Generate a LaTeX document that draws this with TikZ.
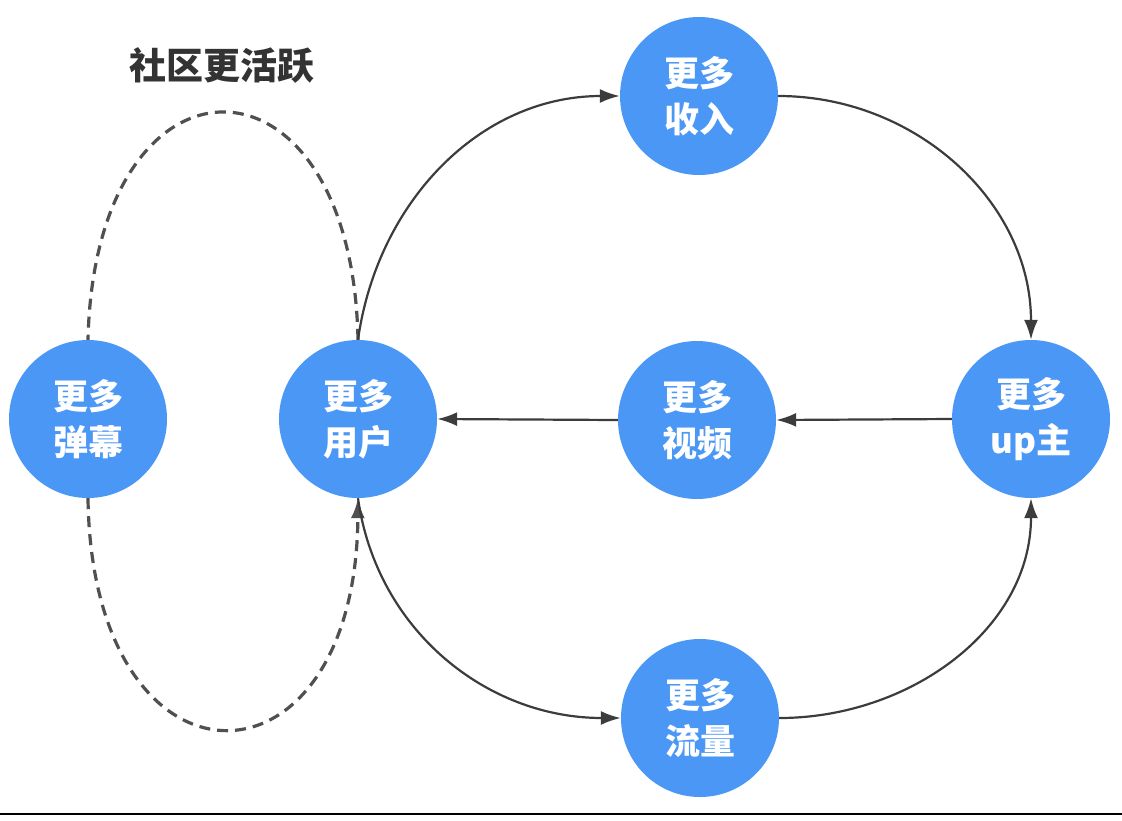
\documentclass[tikz,border=0pt]{standalone}
\usepackage{fontspec}
\newfontfamily\cjk{Noto Sans CJK SC}
\usepackage{tikz}
\usetikzlibrary{positioning,arrows.meta}
\usepackage{xcolor}
\definecolor{bubbleblue}{HTML}{4A97F6}
\definecolor{linegray}{HTML}{3C3C3C}
\definecolor{dashgray}{HTML}{505050}

\begin{document}
\begin{tikzpicture}[x=1pt, y=-1pt, >={Latex[length=20pt,width=14pt]},
    bubble/.style={circle, fill=bubbleblue, minimum size=158pt, inner sep=0pt,
        text=white, align=center, font=\cjk\bfseries\fontsize{35}{46}\selectfont},
    flow/.style={->, draw=linegray, line width=2.2pt},
    loopline/.style={draw=dashgray, line width=3.2pt, dash pattern=on 11pt off 7pt}]

    % frame
    \useasboundingbox (0,0) rectangle (1122,820);

    % nodes
    \node[bubble] (danmu)   at (88,419)  {更多\\弹幕};
    \node[bubble] (users)   at (358,419) {更多\\用户};
    \node[bubble] (videos)  at (697,420) {更多\\视频};
    \node[bubble] (uploader) at (1031,419) {更多\\up主};
    \node[bubble] (income)  at (699,96)  {更多\\收入};
    \node[bubble] (traffic) at (700,718) {更多\\流量};

    % title of the dashed loop
    \node[font=\cjk\bfseries\fontsize{37}{42}\selectfont, text=black!80] (active) at (222,65) {社区更活跃};

    % dashed loop
    \draw[loopline] (users.north) .. controls (352,36) and (95,36) .. (danmu.north);
    \draw[loopline, ->] (danmu.south) .. controls (92,805) and (356,805) .. (users.south);

    % main cycle
    \draw[flow] (users.north) to[out=82, in=180] (income.west);
    \draw[flow] (income.east) to[out=0, in=90] (uploader.north);
    \draw[flow] (uploader.west) -- (videos.east);
    \draw[flow] (videos.west) -- (users.east);
    \draw[flow] (users.south) to[out=-82, in=180] (traffic.west);
    \draw[flow] (traffic.east) to[out=0, in=-90] (uploader.south);

    % bottom rule
    \draw[line width=2pt] (0,814) -- (1122,814);
\end{tikzpicture}
\end{document}
